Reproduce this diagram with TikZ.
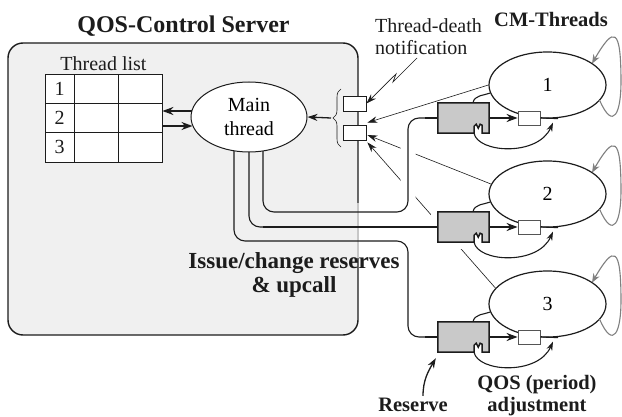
\documentclass[tikz,border=0pt]{standalone}
\usepackage{fontspec}
\setmainfont{Liberation Serif}
\usetikzlibrary{arrows.meta,calc,decorations.pathreplacing,shapes.geometric}
\pgfdeclarelayer{back}
\pgfdeclarelayer{thin}
\pgfdeclarelayer{halo}
\pgfdeclarelayer{wires}
\pgfsetlayers{back,thin,halo,wires,main}
\definecolor{ink}{HTML}{1C1C1C}
\definecolor{srvfill}{HTML}{F0F0F0}
\definecolor{rsvfill}{HTML}{C9C9C9}
\definecolor{loopgray}{HTML}{808080}
\begin{document}
\begin{tikzpicture}[x=1pt,y=1pt,
  txt/.style={font=\fontsize{20}{22}\selectfont, inner sep=0pt, text=ink},
  btxt/.style={font=\fontsize{20.5}{22}\selectfont\bfseries, inner sep=0pt, align=center, text=ink},
  server/.style={draw=ink, fill=srvfill, line width=1.4pt, rounded corners=15pt, minimum width=350pt, minimum height=292pt, inner sep=0pt},
  tablebox/.style={draw=ink, fill=white, line width=0.8pt, minimum width=117pt, minimum height=88pt, inner sep=0pt},
  gridline/.style={draw=ink, line width=0.8pt},
  mainell/.style={ellipse, draw=ink, fill=white, line width=1pt, minimum width=116pt, minimum height=70pt, inner sep=0pt, align=center, font=\fontsize{20}{24}\selectfont},
  cmell/.style={ellipse, draw=ink, fill=white, line width=1.2pt, minimum width=117pt, minimum height=66pt, inner sep=0pt, font=\fontsize{20}{22}\selectfont},
  nbox/.style={draw=ink, fill=white, line width=0.8pt, minimum width=23pt, minimum height=15pt, inner sep=0pt},
  sbox/.style={draw=ink!75, fill=white, line width=0.8pt, minimum width=22pt, minimum height=14pt, inner sep=0pt},
  rsvanchor/.style={minimum width=51pt, minimum height=30pt, inner sep=0pt},
  rsvbox/.style={draw=ink, fill=rsvfill, line width=1.5pt, line join=miter},
  route/.style={draw=ink, line width=1.1pt, rounded corners=11pt},
  heavy/.style={draw=ink, line width=2.6pt},
  wire/.style={draw=ink, line width=1.1pt},
  bigarrow/.style={draw=ink, line width=2.2pt, -{Stealth[length=11pt,width=8pt]}},
  medarrow/.style={draw=ink, line width=1.3pt, -{Stealth[length=10pt,width=7pt]}},
  thinarrow/.style={draw=ink, line width=0.6pt, -{Stealth[length=10pt,width=6.5pt]}},
  looparrow/.style={draw=loopgray, line width=1.1pt, -{Stealth[length=9pt,width=7pt]}},
  haloline/.style={draw=white, line width=15pt},
]
\useasboundingbox (0,0) rectangle (622,416);

% ---------- server box ----------
\begin{pgfonlayer}{back}
  \fill[white] (0,0) rectangle (622,416);
  \node[server] (srv) at (183,227) {};
  \draw[black!22, line width=1.6pt] (358,158) -- (358,213);
\end{pgfonlayer}

\node[btxt, font=\fontsize{24}{26}\selectfont\bfseries] (title) at (183.5,390) {QOS-Control Server};

% ---------- thread list ----------
\node[txt] (tlabel) at (103.5,352) {Thread list};
\node[tablebox] (tl) at (103.5,298) {};
\draw[gridline] (74,254) -- (74,342) (118,254) -- (118,342)
                (45,312.7) -- (162,312.7) (45,283.3) -- (162,283.3);
\node[txt] (row1) at (59.5,327.3) {1};
\node[txt] (row2) at (59.5,298) {2};
\node[txt] (row3) at (59.5,268.7) {3};

% ---------- main thread ----------
\node[mainell] (mt) at (249,299) {Main\\thread};
\draw[bigarrow] ($(mt.west)+(1,6)$) -- ($(tl.east)+(0,7)$);
\draw[bigarrow] ($(tl.east)+(0,-8)$) -- ($(mt.west)+(2,-9)$);

% ---------- notification ports ----------
\node[nbox] (nb1) at (354.5,312.5) {};
\node[nbox] (nb2) at (354.5,283.5) {};
\draw[ink, line width=0.6pt, decorate, decoration={brace, amplitude=8pt}] (341,269) -- (341,327);
\coordinate (bt) at (331,298);
\draw[medarrow] (bt) -- (mt.east);

\node[txt, align=left, anchor=west] (tdn) at (375,379) {Thread-death\\notification};
\coordinate (bolt) at (417,358);
\draw[thinarrow, line width=0.7pt] (bolt) -- (393,334) -- (396,342) -- (nb1.east);

% ---------- CM threads ----------
\node[btxt] (cmt) at (551,397) {CM-Threads};
\foreach \i/\yy in {1/298,2/189,3/79} {
  \node[cmell] (cm\i) at (547.5,\yy+33) {\i};
  \node[rsvanchor] (rb\i) at (463.5,\yy) {};
  \filldraw[rsvbox] (rb\i.south west) -- (rb\i.north west) -- (rb\i.north east)
     -- (rb\i.south east) -- ++(-7,0) -- ++(0,8) -- ++(-2,1) -- ++(-2,-4)
     -- ++(-2,4) -- ++(-2,-2) -- ++(0,-7) -- cycle;
  \node[sbox] (sb\i) at (529,\yy) {};
  \draw[bigarrow] (rb\i.east) -- (sb\i.west);
  \draw[wire] (sb\i.east) -- ($(cm\i.south)+(10.5,0)$);
  \draw[wire] ($(rb\i.north)+(9.5,0)$) to[out=80,in=200] (cm\i.188);
  \draw[wire, -{Stealth[length=9pt,width=6pt]}] ($(rb\i.south)+(10.5,0)$)
     .. controls +(4,-20) and +(-15,-34) .. ($(cm\i.south)+(5.5,-4)$);
  \draw[looparrow] ($(cm\i.center)+(52,-15)$) .. controls +(14,-32) and +(0,-30) ..
     ($(cm\i.center)+(73.5,3)$) .. controls +(0,55) and +(22,38) ..
     ($(cm\i.center)+(44.5,21.4)$);
}

% ---------- thread-death reports ----------
\begin{pgfonlayer}{thin}
  \draw[thinarrow] (cm1.west) -- ($(nb2.north east)+(1,2)$);
  \draw[thinarrow] (cm2.170) -- ($(nb2.east)+(1,-2.5)$);
  \draw[thinarrow] (cm3.163) -- ($(nb2.south east)+(1,-2)$);
\end{pgfonlayer}

% ---------- reserve wiring ----------
\def\routeA{($(mt.center)+(14,0)$) -- (263,204) -- (408,204) -- (408,298) -- (rb1.west)}
\begin{pgfonlayer}{halo}
  \begin{scope}
    \clip (360,156) rectangle (500,281);
    \draw[haloline, rounded corners=11pt] \routeA;
  \end{scope}
  \fill[white] ($(rb2.south west)+(-7,-7)$) rectangle ($(rb2.north east)+(7,7)$);
\end{pgfonlayer}
\begin{pgfonlayer}{wires}
  \draw[route] \routeA;
  \draw[heavy] (425,298) -- (rb1.west);
  \draw[route] (mt.center) -- (249,189) -- (rb2.west);
  \draw[heavy] (263,189) -- (rb2.west);
  \draw[route] ($(mt.center)+(-15,0)$) -- (234,175) -- (408,175) -- (408,79) -- (rb3.west);
  \draw[heavy] (425,79) -- (rb3.west);
\end{pgfonlayer}

\node[btxt, font=\fontsize{23}{24}\selectfont\bfseries] (issue) at (294,141) {Issue/change reserves\\\& upcall};

% ---------- bottom labels ----------
\node[btxt] (rtxt) at (413,11) {Reserve};
\draw[medarrow] ($(rtxt.north)+(10,2)$) to[out=90,in=240] ($(rb3.south west)+(-2,-6)$);
\node[btxt] (qos) at (537,20) {QOS (period)\\adjustment};
\end{tikzpicture}
\end{document}
